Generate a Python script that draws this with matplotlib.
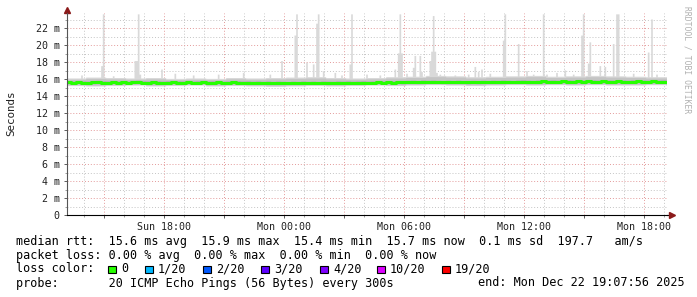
import numpy as np
import pandas as pd
import matplotlib
matplotlib.use("Agg")
import matplotlib.pyplot as plt
import matplotlib.dates as mdates
from matplotlib.ticker import FuncFormatter, MultipleLocator
from matplotlib.patches import Rectangle

# --- data (30 h, 5 min steps) ---
start = pd.Timestamp("2025-12-21 13:07:56")
end = pd.Timestamp("2025-12-22 19:07:56")

# median rtt in ms, one value per 15 min
median_ms = [
    15.62, 15.58, 15.64, 15.60, 15.57, 15.63, 15.66, 15.61, 15.59, 15.64, 15.60, 15.62, 15.58,
    15.63, 15.67, 15.61, 15.59, 15.62, 15.60, 15.57, 15.61, 15.64, 15.60, 15.58, 15.62,
    15.59, 15.61, 15.63, 15.58, 15.60, 15.62, 15.57, 15.59, 15.63, 15.61, 15.58, 15.60,
    15.56, 15.59, 15.55, 15.58, 15.54, 15.57, 15.55, 15.52, 15.56, 15.54, 15.58, 15.55,
    15.57, 15.54, 15.58, 15.56, 15.55, 15.59, 15.57, 15.60, 15.56, 15.58, 15.61, 15.57,
    15.59, 15.62, 15.60, 15.63, 15.61, 15.65, 15.62, 15.66, 15.68, 15.64, 15.70, 15.67,
    15.69, 15.66, 15.63, 15.67, 15.65, 15.68, 15.64, 15.62, 15.66, 15.63, 15.67, 15.65,
    15.68, 15.66, 15.70, 15.67, 15.65, 15.69, 15.72, 15.68, 15.66, 15.70, 15.73, 15.69,
    15.71, 15.68, 15.74, 15.72, 15.69, 15.73, 15.70, 15.75, 15.72, 15.69, 15.73, 15.71,
    15.70, 15.74, 15.71, 15.68, 15.72, 15.75, 15.71, 15.69, 15.73, 15.70, 15.72, 15.70,
]

# smoke band (lowest / highest ping), one value per hour
smoke_lo = [15.25, 15.2, 15.25, 15.3, 15.2, 15.25, 15.3, 15.2, 15.25, 15.2, 15.15, 15.2,
            15.25, 15.2, 15.25, 15.3, 15.25, 15.3, 15.35, 15.3, 15.25, 15.3, 15.35, 15.3,
            15.35, 15.3, 15.35, 15.3, 15.3, 15.35, 15.3]
smoke_hi = [16.15, 16.25, 16.2, 16.15, 16.2, 16.1, 16.15, 16.1, 16.2, 16.15, 16.2, 16.25,
            16.3, 16.2, 16.15, 16.2, 16.3, 16.35, 16.45, 16.4, 16.3, 16.35, 16.4, 16.45,
            16.35, 16.4, 16.45, 16.4, 16.35, 16.3, 16.3]

# slowest pings (spikes)
spike_times = [
    "12-21 13:52", "12-21 14:54", "12-21 14:58", "12-21 15:30", "12-21 16:32", "12-21 16:37",
    "12-21 16:41", "12-21 16:46", "12-21 17:54", "12-21 18:34", "12-21 19:30", "12-21 20:45",
    "12-21 21:58", "12-21 23:19", "12-21 23:52", "12-22 00:31", "12-22 00:36", "12-22 01:06",
    "12-22 01:26", "12-22 01:38", "12-22 01:43", "12-22 01:58", "12-22 02:34", "12-22 02:55",
    "12-22 03:20", "12-22 03:24", "12-22 04:10", "12-22 04:50", "12-22 05:31", "12-22 05:41",
    "12-22 05:46", "12-22 05:52", "12-22 06:10", "12-22 06:28", "12-22 06:34", "12-22 06:49",
    "12-22 06:55", "12-22 07:16", "12-22 07:22", "12-22 07:27", "12-22 07:32", "12-22 07:37",
    "12-22 07:50", "12-22 08:35", "12-22 09:15", "12-22 09:34", "12-22 09:43", "12-22 09:55",
    "12-22 10:20", "12-22 10:58", "12-22 11:01", "12-22 11:05", "12-22 11:41", "12-22 12:07",
    "12-22 12:30", "12-22 12:56", "12-22 13:10", "12-22 13:40", "12-22 14:01", "12-22 14:30",
    "12-22 14:55", "12-22 14:59", "12-22 15:11", "12-22 15:19", "12-22 15:46", "12-22 16:04",
    "12-22 16:26", "12-22 16:38", "12-22 16:44", "12-22 17:04", "12-22 17:30", "12-22 18:15",
    "12-22 18:24", "12-22 18:40",
]
spike_ms = [
    16.5, 17.6, 23.7, 16.4, 18.2, 18.2,
    23.7, 16.6, 17.2, 16.7, 16.5, 16.6,
    16.8, 16.6, 18.2, 21.2, 23.7, 18.0,
    17.8, 22.6, 23.7, 17.0, 16.8, 16.5,
    17.8, 23.7, 16.6, 16.5, 17.2, 19.1,
    23.7, 19.1, 16.7, 17.4, 18.8, 18.8,
    16.9, 18.2, 19.3, 23.5, 19.3, 16.8,
    16.6, 16.5, 16.6, 17.5, 16.9, 17.2,
    16.7, 20.6, 23.7, 20.6, 20.2, 17.0,
    16.6, 23.7, 16.6, 16.8, 17.1, 16.6,
    21.2, 23.7, 17.9, 20.4, 17.6, 17.5,
    20.2, 23.7, 23.7, 16.4, 16.7, 19.2,
    23.1, 16.6,
]

loss_labels = ["0", "1/20", "2/20", "3/20", "4/20", "10/20", "19/20"]
loss_colors = ["#26ff00", "#00b8ff", "#0059ff", "#5e00ff", "#7e00ff", "#dd00ff", "#ff0000"]

# --- build 5 min series ---
n = int((end - start) / pd.Timedelta(minutes=5)) + 1
times = start + pd.to_timedelta(np.arange(n) * 5, unit="min")
med = np.repeat(median_ms, 3)[:n]
lo = np.repeat(smoke_lo, 12)[:n]
hi = np.repeat(smoke_hi, 12)[:n]
top = hi.copy()
for ts, v in zip(spike_times, spike_ms):
    t = pd.Timestamp("2025-" + ts)
    i = int(round((t - start) / pd.Timedelta(minutes=5)))
    if 0 <= i < n:
        top[i] = max(top[i], v)

mono = "DejaVu Sans Mono"
plt.rcParams["font.family"] = mono

fig = plt.figure(figsize=(6.97, 2.97), dpi=100)
ax = fig.add_axes([66.5 / 697, 82 / 297, 600 / 697, 202 / 297])
ymax = 23.8

ax.fill_between(times, lo, top, step="mid", color="#d9d9d9", lw=0)
ax.fill_between(times, lo + 0.1, hi - 0.15, step="mid", color="#c4c4c4", lw=0)
ax.fill_between(times, med - 0.15, med + 0.2, step="mid", color="#a8a8a8", lw=0)
ax.plot(times, med, drawstyle="steps-mid", color=loss_colors[0], lw=2.2)

ax.set_xlim(start, end)
ax.set_ylim(0, ymax)

# grid like rrdtool: grey minor, red major, dotted
ax.xaxis.set_major_locator(mdates.HourLocator(byhour=range(0, 24, 3)))
ax.xaxis.set_minor_locator(mdates.HourLocator())
ax.xaxis.set_major_formatter(FuncFormatter(
    lambda v, p: mdates.num2date(v).strftime("%a %H:%M") if mdates.num2date(v).hour % 6 == 0 else ""))
ax.yaxis.set_major_locator(MultipleLocator(2))
ax.yaxis.set_minor_locator(MultipleLocator(1))
ax.yaxis.set_major_formatter(FuncFormatter(lambda v, p: "0" if v == 0 else f"{int(v)} m"))

ax.set_axisbelow(True)
ax.grid(which="major", color="#e39a9a", lw=0.7, ls=(0, (1, 2)))
ax.grid(which="minor", color="#c4c4c4", lw=0.7, ls=(0, (1, 2)))

for s in ["top", "right"]:
    ax.spines[s].set_visible(False)
ax.spines["bottom"].set_color("#000000")
ax.spines["left"].set_color("#555555")
ax.spines["bottom"].set_linewidth(0.8)
ax.spines["left"].set_linewidth(0.8)

ax.tick_params(axis="both", which="major", labelsize=7.2, length=2, width=0.6, colors="#444444",
               labelcolor="#222222")
ax.tick_params(axis="both", which="minor", length=1.5, width=0.5, colors="#777777")
ax.tick_params(axis="x", pad=3)
ax.tick_params(axis="y", pad=3)

# axis arrows
arrow_col = "#8b1a1a"
ax.plot([start, start], [ymax, ymax + 0.3], color="#555555", lw=0.8, clip_on=False)
ax.plot([start], [ymax + 0.3], marker="^", ms=4, color=arrow_col, clip_on=False)
x_end = end + pd.Timedelta(minutes=17)
ax.plot([end, x_end], [0, 0], color="#000000", lw=0.8, clip_on=False)
ax.plot([x_end], [0], marker=">", ms=4, color=arrow_col, clip_on=False)

fig.text(11 / 697, 1 - 113 / 297, "Seconds", rotation=90, ha="center", va="center",
         fontsize=7.8, color="#222222")
fig.text(687 / 697, 1 - 60 / 297, "RRDTOOL / TOBI OETIKER", rotation=270, ha="center",
         va="center", fontsize=5.8, color="#b0b0b0")

# legend block
fs = 8.5
lx = 16 / 697


def fy(y):
    return 1 - y / 297


fig.text(lx, fy(241), "median rtt:  15.6 ms avg  15.9 ms max  15.4 ms min  15.7 ms now  0.1 ms sd  197.7   am/s",
         fontsize=fs, va="center", ha="left")
fig.text(lx, fy(255), "packet loss: 0.00 % avg  0.00 % max  0.00 % min  0.00 % now",
         fontsize=fs, va="center", ha="left")
fig.text(lx, fy(269), "loss color:", fontsize=fs, va="center", ha="left")
box_x = [108, 145, 203, 261, 320, 377, 442]
for bx, lab, col in zip(box_x, loss_labels, loss_colors):
    fig.patches.append(Rectangle((bx / 697, fy(273.3)), 7.5 / 697, 7.5 / 297, transform=fig.transFigure,
                                 facecolor=col, edgecolor="black", lw=0.8))
    fig.text((bx + 13) / 697, fy(269), lab, fontsize=fs, va="center", ha="left")
fig.text(lx, fy(283), "probe:       20 ICMP Echo Pings (56 Bytes) every 300s", fontsize=fs,
         va="center", ha="left")
fig.text(478 / 697, fy(283), "end: Mon Dec 22 19:07:56 2025", fontsize=fs, va="center", ha="left")

fig.savefig("out.png", dpi=100, facecolor="white")
